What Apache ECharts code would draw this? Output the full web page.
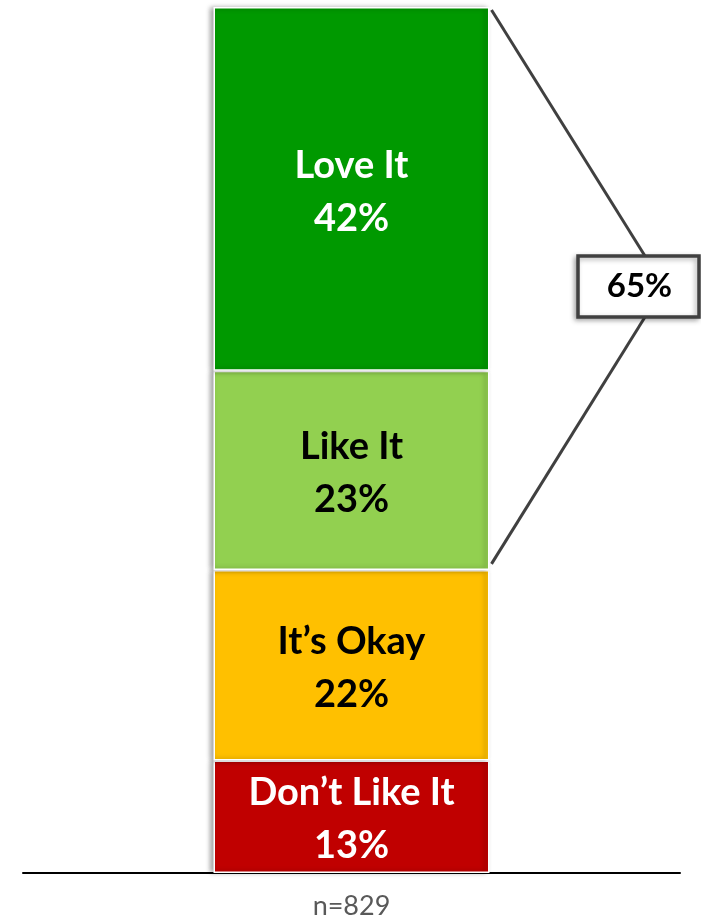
<!DOCTYPE html>
<html>
<head>
<meta charset="utf-8">
<script src="https://cdn.jsdelivr.net/npm/echarts@6/dist/echarts.min.js"></script>
<style>
  html, body { margin: 0; padding: 0; background: #fff; }
  #chart { width: 701px; height: 920px; }
</style>
</head>
<body>
<div id="chart"></div>
<script>
// data
const categories = ['n=829'];
const seriesNames = ['Don’t Like It', 'It’s Okay', 'Like It', 'Love It'];
const values = [13, 22, 23, 42];
const colors = ['#C00000', '#FFC000', '#92D050', '#009900'];
const labelColors = ['#fff', '#000', '#000', '#fff'];
// the bracket groups the top two answers
const bracketSeries = ['Like It', 'Love It'];

const chart = echarts.init(document.getElementById('chart'));
const font = 'Lato, "Open Sans", sans-serif';
const barWidth = 276;

const series = seriesNames.map((name, i) => ({
  name: name,
  type: 'bar',
  stack: 'total',
  barWidth: barWidth,
  data: [values[i]],
  itemStyle: {
    color: colors[i],
    borderColor: '#fff',
    borderWidth: 1.5,
    shadowColor: 'rgba(0,0,0,0.35)',
    shadowBlur: 5,
    shadowOffsetX: -3
  },
  label: {
    show: true,
    position: 'inside',
    formatter: '{a}\n{c}%',
    color: labelColors[i],
    fontFamily: font,
    fontWeight: 'bold',
    fontSize: 38,
    lineHeight: 53,
    offset: [0, 3]
  }
}));

chart.setOption({
  animation: false,
  grid: { left: 23, right: 21, top: 7, bottom: 46 },
  xAxis: {
    type: 'category',
    data: categories,
    axisLine: { lineStyle: { color: '#000', width: 2 } },
    axisTick: { show: false },
    axisLabel: { color: '#595959', fontFamily: font, fontSize: 27, margin: 20 }
  },
  yAxis: {
    type: 'value', min: 0, max: 100,
    show: false, splitLine: { show: false }
  },
  series: series
});

// bracket + total box
const xc = chart.convertToPixel({ xAxisIndex: 0 }, categories[0]);
const barRight = xc + barWidth / 2;
const groupSum = bracketSeries.reduce((s, n) => s + values[seriesNames.indexOf(n)], 0);
const total = values.reduce((a, b) => a + b, 0);
const yTop = chart.convertToPixel({ yAxisIndex: 0 }, total);
const yLow = chart.convertToPixel({ yAxisIndex: 0 }, total - groupSum);
const yMid = (yTop + yLow) / 2;
const boxW = 121, boxH = 61;
const boxX = 578, apexX = 645;
const boxY = yMid - boxH / 2 - 2;

chart.setOption({
  graphic: [
    {
      type: 'polyline',
      shape: { points: [[barRight + 2, yTop + 3], [apexX, boxY]] },
      style: { stroke: '#404040', lineWidth: 3, fill: null }
    },
    {
      type: 'polyline',
      shape: { points: [[apexX, boxY + boxH], [barRight + 2, yLow - 6]] },
      style: { stroke: '#404040', lineWidth: 3, fill: null }
    },
    {
      type: 'rect',
      shape: { x: boxX, y: boxY, width: boxW, height: boxH },
      style: {
        fill: '#fff', stroke: '#404040', lineWidth: 3.5,
        shadowColor: 'rgba(0,0,0,0.3)', shadowBlur: 5, shadowOffsetX: -2, shadowOffsetY: 2
      }
    },
    {
      type: 'text',
      x: boxX + boxW / 2 + 1,
      y: boxY + boxH / 2,
      style: {
        text: groupSum + '%',
        fill: '#000',
        fontFamily: font,
        fontWeight: 'bold',
        fontSize: 33,
        align: 'center',
        verticalAlign: 'middle'
      }
    }
  ]
});
</script>
</body>
</html>
